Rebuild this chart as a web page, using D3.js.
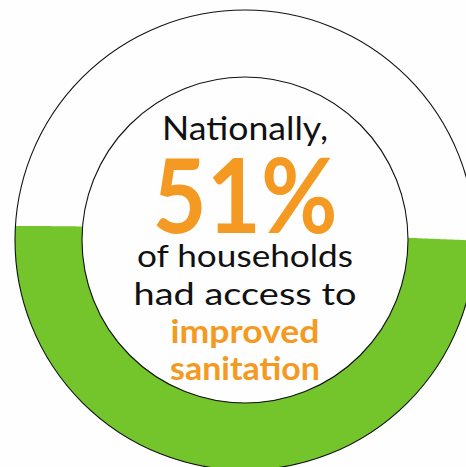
<!DOCTYPE html>
<html>
<head>
<meta charset="utf-8">
<script src="https://cdn.jsdelivr.net/npm/d3@7"></script>
<style>
  html, body { margin: 0; padding: 0; background: #fefefe; }
  svg { display: block; }
</style>
</head>
<body>
<script>
// Share of households with access to improved sanitation (percent)
const gaugeValue = [51];
const gaugeDomain = [0, 100];
const blackLines = ["Nationally,", "of households", "had access to"];
const orangeLines = ["improved", "sanitation"];

const W = 466, H = 467;
const cx = 245, cy = 240;
const rOuter = 230, rInner = 163;
const green = "#74c52c";
const orange = "#f49a22";
const ink = "#111111";

const svg = d3.select("body").append("svg")
  .attr("width", W).attr("height", H);

// Annulus used to clip the liquid fill
const ring = d3.arc()
  .innerRadius(rInner).outerRadius(rOuter)
  .startAngle(0).endAngle(2 * Math.PI);

svg.append("defs").append("clipPath").attr("id", "ringClip")
  .append("path")
  .attr("transform", `translate(${cx},${cy})`)
  .attr("d", ring());

// Vertical scale of the gauge: 0 at the bottom of the ring, 100 at its top
const y = d3.scaleLinear().domain(gaugeDomain).range([cy + rOuter, cy - rOuter]);
const x = d3.scaleLinear().domain([0, 1]).range([cx - rOuter, cx + rOuter]);

// Gentle wave on the liquid surface
const waveAmp = 9.4, waveLen = 1347, wavePeak = 16;
const level = y(gaugeValue[0]);
const surface = d3.range(0, 1.0001, 0.005).map(t => {
  const px = x(t);
  return [px, level - waveAmp * Math.cos(2 * Math.PI * (px - wavePeak) / waveLen)];
});

const area = d3.area()
  .x(d => d[0])
  .y0(y(gaugeDomain[0]) + 2)
  .y1(d => d[1])
  .curve(d3.curveBasis);

svg.append("path")
  .datum(surface)
  .attr("clip-path", "url(#ringClip)")
  .attr("fill", green)
  .attr("d", area);

// Ring outlines
svg.selectAll("circle.outline")
  .data([rOuter, rInner])
  .join("circle")
  .attr("class", "outline")
  .attr("cx", cx).attr("cy", cy)
  .attr("r", d => d)
  .attr("fill", "none")
  .attr("stroke", "#111")
  .attr("stroke-width", 1.1);

// Centre text
const labels = [
  { text: blackLines[0], y: 140, size: 32, weight: 400, fill: ink, len: 166 },
  { text: gaugeValue[0] + "%", y: 233, size: 104, weight: 700, fill: orange, len: 185 },
  { text: blackLines[1], y: 267, size: 31, weight: 400, fill: ink, len: 216 },
  { text: blackLines[2], y: 305, size: 31, weight: 400, fill: ink, len: 223 },
  { text: orangeLines[0], y: 343, size: 33, weight: 700, fill: orange, len: 149 },
  { text: orangeLines[1], y: 380, size: 33, weight: 700, fill: orange, len: 150 }
];

svg.selectAll("text.label")
  .data(labels)
  .join("text")
  .attr("class", "label")
  .attr("x", cx)
  .attr("y", d => d.y)
  .attr("text-anchor", "middle")
  .attr("font-family", "Lato, 'DejaVu Sans', sans-serif")
  .attr("font-size", d => d.size)
  .attr("font-weight", d => d.weight)
  .attr("fill", d => d.fill)
  .attr("textLength", d => d.len)
  .attr("lengthAdjust", "spacingAndGlyphs")
  .text(d => d.text);
</script>
</body>
</html>
